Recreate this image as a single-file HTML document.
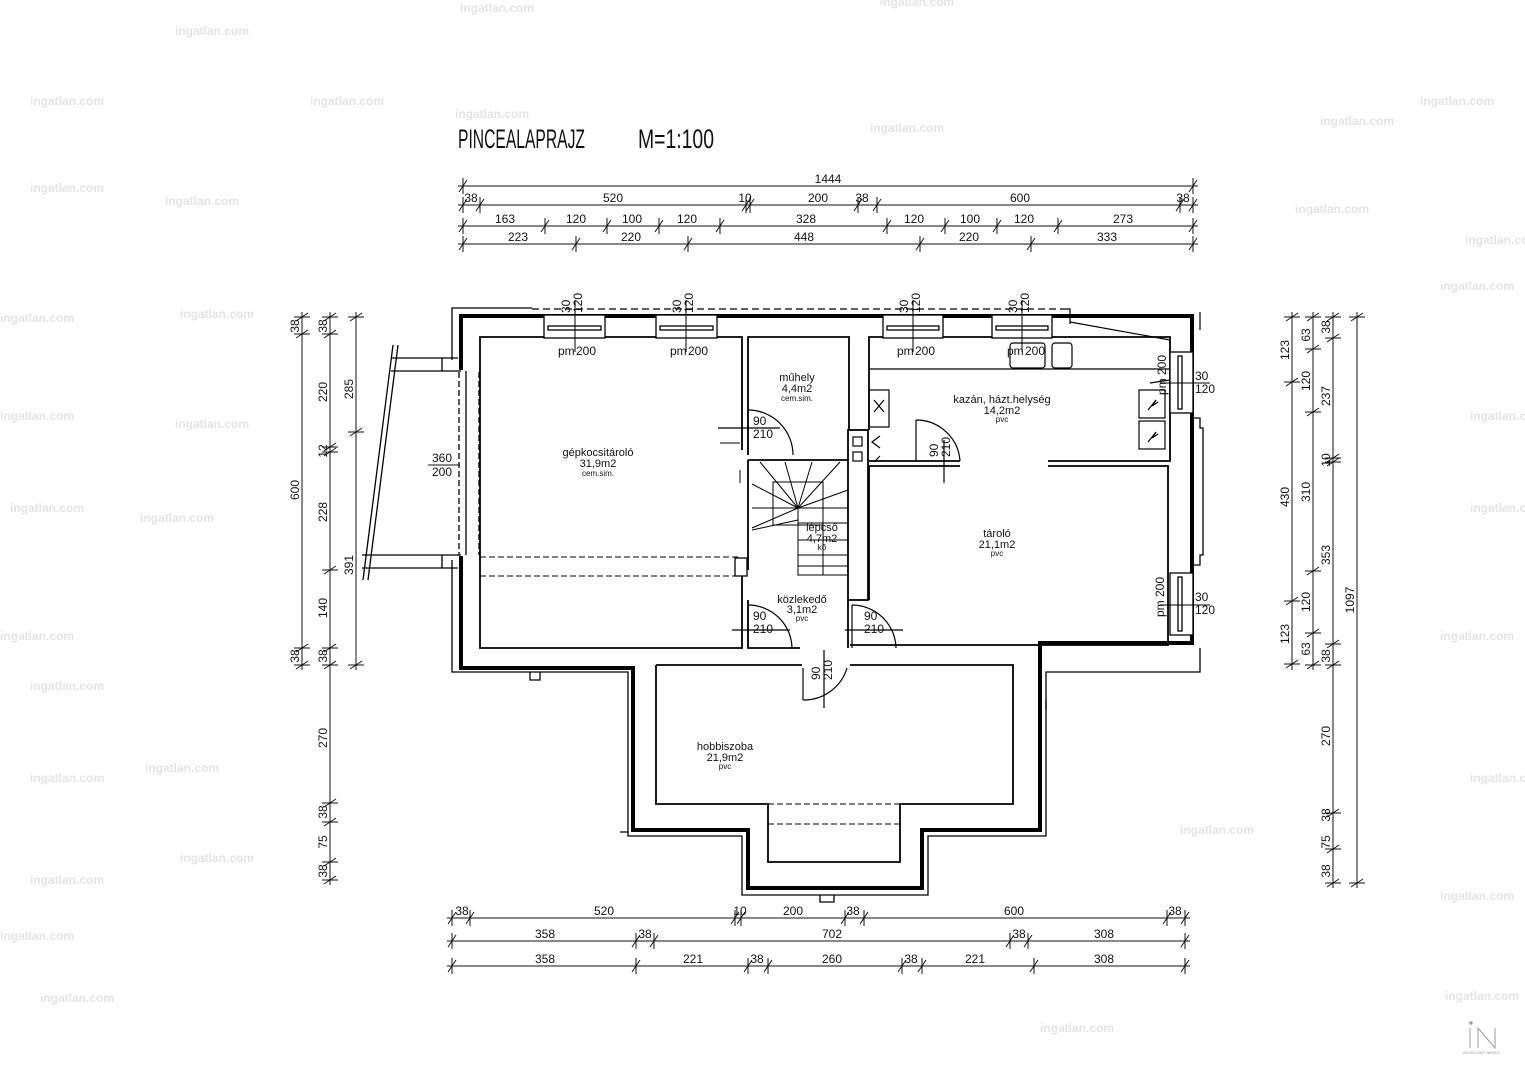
<!DOCTYPE html>
<html><head><meta charset="utf-8"><style>
html,body{margin:0;padding:0;background:#fff}
svg{display:block}
text{font-family:"Liberation Sans Narrow","Liberation Sans",sans-serif;fill:#111}
.d{font-size:12px}
.r{font-size:11px}
.s{font-size:8px}
.wm{font-size:12px;fill:#e4e4e4;font-weight:bold}
</style></head><body>
<svg width="1525" height="1080" viewBox="0 0 1525 1080" xmlns="http://www.w3.org/2000/svg">
<rect width="1525" height="1080" fill="#fff"/>
<g class="wm">
<text x="175" y="35" class="wm">ingatlan.com</text><text x="460" y="12" class="wm">ingatlan.com</text><text x="880" y="6" class="wm">ingatlan.com</text>
<text x="30" y="105" class="wm">ingatlan.com</text><text x="310" y="105" class="wm">ingatlan.com</text><text x="455" y="118" class="wm">ingatlan.com</text><text x="870" y="132" class="wm">ingatlan.com</text><text x="1320" y="125" class="wm">ingatlan.com</text><text x="1420" y="105" class="wm">ingatlan.com</text>
<text x="30" y="192" class="wm">ingatlan.com</text><text x="165" y="205" class="wm">ingatlan.com</text><text x="1295" y="213" class="wm">ingatlan.com</text><text x="1465" y="244" class="wm">ingatlan.com</text>
<text x="0" y="322" class="wm">ingatlan.com</text><text x="180" y="318" class="wm">ingatlan.com</text><text x="1440" y="290" class="wm">ingatlan.com</text>
<text x="0" y="420" class="wm">ingatlan.com</text><text x="175" y="428" class="wm">ingatlan.com</text><text x="1470" y="420" class="wm">ingatlan.com</text>
<text x="10" y="512" class="wm">ingatlan.com</text><text x="140" y="522" class="wm">ingatlan.com</text><text x="1470" y="512" class="wm">ingatlan.com</text>
<text x="0" y="640" class="wm">ingatlan.com</text><text x="30" y="690" class="wm">ingatlan.com</text><text x="1440" y="640" class="wm">ingatlan.com</text>
<text x="30" y="782" class="wm">ingatlan.com</text><text x="145" y="772" class="wm">ingatlan.com</text><text x="1470" y="782" class="wm">ingatlan.com</text>
<text x="30" y="884" class="wm">ingatlan.com</text><text x="180" y="862" class="wm">ingatlan.com</text><text x="1180" y="834" class="wm">ingatlan.com</text><text x="1440" y="900" class="wm">ingatlan.com</text>
<text x="0" y="940" class="wm">ingatlan.com</text><text x="40" y="1002" class="wm">ingatlan.com</text><text x="1040" y="1032" class="wm">ingatlan.com</text><text x="1445" y="1000" class="wm">ingatlan.com</text>
</g>

<text x="458" y="148" font-size="27" textLength="127" lengthAdjust="spacingAndGlyphs">PINCEALAPRAJZ</text>
<text x="638" y="148" font-size="27" textLength="76" lengthAdjust="spacingAndGlyphs">M=1:100</text>

<g stroke="#111" stroke-width="1" fill="none">
<path d="M458 186H1198 M458 205H1198 M458 226H1198 M458 244H1198"/>
<path d="M447 918H1190 M447 941H1190 M447 966H1190"/>
<path d="M302 312V670 M330 312V885 M356 312V670"/>
<path d="M1292 312V670 M1313 312V670 M1333 312V888 M1357 312V888"/>
<path d="M459 192L467 180M463 178V194 M1189 192L1197 180M1193 178V194
M459 211L467 199M463 197V213 M476 211L484 199M480 197V213 M742 211L750 199M746 197V213 M746 211L754 199M750 197V213 M854 211L862 199M858 197V213 M873 211L881 199M877 197V213 M1176 211L1184 199M1180 197V213 M1189 211L1197 199M1193 197V213
M459 232L467 220M463 218V234 M541 232L549 220M545 218V234 M603 232L611 220M607 218V234 M655 232L663 220M659 218V234 M716 232L724 220M720 218V234 M883 232L891 220M887 218V234 M941 232L949 220M945 218V234 M993 232L1001 220M997 218V234 M1054 232L1062 220M1058 218V234 M1189 232L1197 220M1193 218V234
M459 250L467 238M463 236V252 M572 250L580 238M576 236V252 M684 250L692 238M688 236V252 M916 250L924 238M920 236V252 M1027 250L1035 238M1031 236V252 M1189 250L1197 238M1193 236V252"/>
<path d="M448 924L456 912M452 910V926 M466 924L474 912M470 910V926 M731 924L739 912M735 910V926 M737 924L745 912M741 910V926 M841 924L849 912M845 910V926 M860 924L868 912M864 910V926 M1163 924L1171 912M1167 910V926 M1181 924L1189 912M1185 910V926
M448 947L456 935M452 933V949 M632 947L640 935M636 933V949 M650 947L658 935M654 933V949 M1006 947L1014 935M1010 933V949 M1024 947L1032 935M1028 933V949 M1181 947L1189 935M1185 933V949
M448 972L456 960M452 958V974 M632 972L640 960M636 958V974 M744 972L752 960M748 958V974 M764 972L772 960M768 958V974 M898 972L906 960M902 958V974 M918 972L926 960M922 958V974 M1030 972L1038 960M1034 958V974 M1181 972L1189 960M1185 958V974"/>
<path d="M296 321L308 313M294 317H310 M296 338L308 330M294 334H310 M296 652L308 644M294 648H310 M296 669L308 661M294 665H310
M324 321L336 313M322 317H338 M324 338L336 330M322 334H338 M324 451L336 443M322 447H338 M324 456L336 448M322 452H338 M324 574L336 566M322 570H338 M324 652L336 644M322 648H338 M324 669L336 661M322 665H338 M324 807L336 799M322 803H338 M324 826L336 818M322 822H338 M324 866L336 858M322 862H338 M324 884L336 876M322 880H338
M350 321L362 313M348 317H364 M350 436L362 428M348 432H364 M350 669L362 661M348 665H364"/>
<path d="M1286 321L1298 313M1284 317H1300 M1286 386L1298 378M1284 382H1300 M1286 605L1298 597M1284 601H1300 M1286 668L1298 660M1284 664H1300
M1307 321L1319 313M1305 317H1321 M1307 353L1319 345M1305 349H1321 M1307 416L1319 408M1305 412H1321 M1307 575L1319 567M1305 571H1321 M1307 637L1319 629M1305 633H1321 M1307 669L1319 661M1305 665H1321
M1327 321L1339 313M1325 317H1341 M1327 342L1339 334M1325 338H1341 M1327 462L1339 454M1325 458H1341 M1327 466L1339 458M1325 462H1341 M1327 648L1339 640M1325 644H1341 M1327 669L1339 661M1325 665H1341 M1327 817L1339 809M1325 813H1341 M1327 853L1339 845M1325 849H1341 M1327 887L1339 879M1325 883H1341
M1351 321L1363 313M1349 317H1365 M1351 887L1363 879M1349 883H1365"/>
</g>
<g class="d" text-anchor="middle">
<text x="828" y="183">1444</text>
<text x="471" y="202">38</text><text x="613" y="202">520</text><text x="745" y="202">10</text><text x="818" y="202">200</text><text x="862" y="202">38</text><text x="1020" y="202">600</text><text x="1183" y="202">38</text>
<text x="505" y="223">163</text><text x="576" y="223">120</text><text x="632" y="223">100</text><text x="687" y="223">120</text><text x="806" y="223">328</text><text x="914" y="223">120</text><text x="970" y="223">100</text><text x="1024" y="223">120</text><text x="1123" y="223">273</text>
<text x="518" y="241">223</text><text x="631" y="241">220</text><text x="804" y="241">448</text><text x="969" y="241">220</text><text x="1107" y="241">333</text>
<text x="462" y="915">38</text><text x="604" y="915">520</text><text x="740" y="915">10</text><text x="793" y="915">200</text><text x="853" y="915">38</text><text x="1014" y="915">600</text><text x="1175" y="915">38</text>
<text x="545" y="938">358</text><text x="645" y="938">38</text><text x="832" y="938">702</text><text x="1019" y="938">38</text><text x="1104" y="938">308</text>
<text x="545" y="963">358</text><text x="693" y="963">221</text><text x="757" y="963">38</text><text x="832" y="963">260</text><text x="911" y="963">38</text><text x="975" y="963">221</text><text x="1104" y="963">308</text>
</g>
<g class="d" text-anchor="middle">
<text transform="translate(299,326) rotate(-90)">38</text><text transform="translate(299,490) rotate(-90)">600</text><text transform="translate(299,656) rotate(-90)">38</text>
<text transform="translate(327,326) rotate(-90)">38</text><text transform="translate(327,392) rotate(-90)">220</text><text transform="translate(327,451) rotate(-90)">12</text><text transform="translate(327,512) rotate(-90)">228</text><text transform="translate(327,608) rotate(-90)">140</text><text transform="translate(327,656) rotate(-90)">38</text><text transform="translate(327,738) rotate(-90)">270</text><text transform="translate(327,812) rotate(-90)">38</text><text transform="translate(327,842) rotate(-90)">75</text><text transform="translate(327,871) rotate(-90)">38</text>
<text transform="translate(353,389) rotate(-90)">285</text><text transform="translate(353,565) rotate(-90)">391</text>
<text transform="translate(1289,350) rotate(-90)">123</text><text transform="translate(1289,497) rotate(-90)">430</text><text transform="translate(1289,634) rotate(-90)">123</text>
<text transform="translate(1310,335) rotate(-90)">63</text><text transform="translate(1310,381) rotate(-90)">120</text><text transform="translate(1310,492) rotate(-90)">310</text><text transform="translate(1310,602) rotate(-90)">120</text><text transform="translate(1310,649) rotate(-90)">63</text>
<text transform="translate(1330,327) rotate(-90)">38</text><text transform="translate(1330,396) rotate(-90)">237</text><text transform="translate(1330,460) rotate(-90)">10</text><text transform="translate(1330,555) rotate(-90)">353</text><text transform="translate(1330,656) rotate(-90)">38</text><text transform="translate(1330,736) rotate(-90)">270</text><text transform="translate(1330,815) rotate(-90)">38</text><text transform="translate(1330,842) rotate(-90)">75</text><text transform="translate(1330,871) rotate(-90)">38</text>
<text transform="translate(1354,600) rotate(-90)">1097</text>
</g>

<g fill="none" stroke="#000">
<path stroke-width="4" d="M461 370V316H1192V643H1040V830H922V888H748V830H633V668H461V556"/>
<path stroke-width="1.3" d="M452 360V308H532 M452 560V672H628V836H742V895H928V836H1046V672H1200V648"/>
<path stroke-width="1.2" stroke-dasharray="7,4" d="M532 309H1060"/>
<path stroke-width="1.2" d="M1060 309H1070V324 M1200 312V330"/>
<g stroke-width="1.8">
<path d="M742 570V648H480V337H742V450"/>
<path d="M748 455V337H849V430"/>
<path d="M869 430V337H1170V461H1048 M960 461H869"/>
<path d="M869 600V466H960 M1048 466H1168V645H850"/>
<path d="M748 460H848 M748 460V570 M748 600V648H800 M848 600V648"/>
<path d="M656 665V804H768V862H900V804H1013V665H850 M802 665H656"/>
<rect x="848" y="430" width="20" height="170"/>
</g>
<g stroke-width="1.3">
<path d="M391 358H458 M391 371H461 M362 555H461 M362 568H458"/>
<path d="M393 345L363 580 M398 345L368 580"/>
<path d="M466 371V555" />
<path stroke-dasharray="6,3" d="M459 372V555 M479 372V555"/>
<path d="M442 555V568 M442 358V371"/>
</g>
<path stroke-width="1" stroke-dasharray="6,3" d="M480 557H740 M480 576H740"/>
<rect x="735" y="558" width="12" height="18" stroke-width="1.3" fill="#fff"/>
<path stroke-width="1" stroke-dasharray="6,3" d="M768 804H900 M768 824H900"/>
<g stroke-width="1.3" fill="#fff">
<rect x="544" y="315" width="61" height="23"/><rect x="656" y="315" width="61" height="23"/><rect x="883" y="315" width="60" height="23"/><rect x="992" y="315" width="60" height="23"/>
<rect x="548" y="326" width="53" height="4"/><rect x="660" y="326" width="53" height="4"/><rect x="887" y="326" width="52" height="4"/><rect x="996" y="326" width="52" height="4"/>
<rect x="1170" y="352" width="23" height="61"/><rect x="1170" y="573" width="23" height="62"/>
<rect x="1178" y="356" width="4" height="53"/><rect x="1178" y="577" width="4" height="54"/>
</g>
<path stroke-width="1.3" d="M1194 418H1200V428H1203V555H1200V565H1194"/>
<path stroke-width="1.3" d="M530 672V680H540V672 M620 832H628 M1046 700V710 M820 895V902H834V895"/>
<path stroke-width="1" d="M575 300V352 M686 300V352 M913 300V352 M1022 300V352 M1160 383H1210 M1160 605H1210 M740 443H720 M740 470V483"/>
<g stroke-width="1.2">
<path d="M748 410V455 M748 410A45 45 0 0 1 793 455"/>
<path d="M916 420V461 M916 420A44 44 0 0 1 960 461"/>
<path d="M748 605V648 M748 605A44 44 0 0 1 792 648"/>
<path d="M852 605V648 M852 605A44 44 0 0 1 896 648"/>
<path d="M803 668V700 M803 700A45 45 0 0 0 847 668"/>
<path d="M718 428H780 M845 630H903 M944 440V483 M824 650V708 M732 630H790"/>
</g>
<g stroke-width="1">
<rect x="773" y="482" width="50" height="43"/>
<path d="M798 508V575H848 M798 523H848 M798 540H848 M798 555H848 M798 566H848 M823 525V575"/>
<path d="M798 508L760 462 M798 508L785 462 M798 508L812 462 M798 508L840 462 M798 508L848 490 M798 508L848 508 M798 508L752 484 M798 508L752 508 M798 508L752 528 M752 530L798 520"/>
</g>
<g stroke-width="1.2">
<path d="M869 369H1170"/>
<rect x="1010" y="343" width="35" height="25" rx="3"/><rect x="1052" y="343" width="20" height="25" rx="3"/>
<rect x="869" y="390" width="20" height="37"/><path d="M874 400L884 412M884 400L874 412"/>
<rect x="1139" y="390" width="26" height="28"/><rect x="1139" y="421" width="26" height="28"/>
<path d="M1148 410L1156 400L1152 406L1158 402 M1148 442L1156 432L1152 438L1158 434"/>
<rect x="853" y="437" width="9" height="9"/><rect x="853" y="452" width="9" height="9"/>
<path d="M880 436L872 442L880 448 M880 456L874 462"/>
<path d="M1070 322L1170 340 M1150 383L1170 380"/>
</g>
</g>

<g class="r" text-anchor="middle">
<text x="598" y="456">gépkocsitároló</text><text x="598" y="467">31,9m2</text><text x="598" y="476" class="s">cem.sim.</text>
<text x="797" y="381">műhely</text><text x="797" y="392">4,4m2</text><text x="797" y="401" class="s">cem.sim.</text>
<text x="1002" y="403">kazán, házt.helység</text><text x="1002" y="414">14,2m2</text><text x="1002" y="422" class="s">pvc</text>
<text x="997" y="537">tároló</text><text x="997" y="548">21,1m2</text><text x="997" y="556" class="s">pvc</text>
<text x="822" y="531">lépcső</text><text x="822" y="542">4,7m2</text><text x="822" y="550" class="s">kő</text>
<text x="802" y="603">közlekedő</text><text x="802" y="613">3,1m2</text><text x="802" y="621" class="s">pvc</text>
<text x="725" y="750">hobbiszoba</text><text x="725" y="761">21,9m2</text><text x="725" y="769" class="s">pvc</text>
</g>
<g class="d">
<text x="558" y="355">pm</text><text x="576" y="355">200</text>
<text x="670" y="355">pm</text><text x="688" y="355">200</text>
<text x="897" y="355">pm</text><text x="915" y="355">200</text>
<text x="1007" y="355">pm</text><text x="1025" y="355">200</text>
<text x="1195" y="380">30</text><text x="1195" y="393">120</text>
<text x="1195" y="601">30</text><text x="1195" y="614">120</text>
<text transform="translate(1166,395) rotate(-90)">pm 200</text>
<text transform="translate(1164,617) rotate(-90)">pm 200</text>
<text x="753" y="425">90</text><text x="753" y="438">210</text>
<text x="753" y="620">90</text><text x="753" y="633">210</text>
<text x="864" y="620">90</text><text x="864" y="633">210</text>
<text transform="translate(938,457) rotate(-90)">90</text><text transform="translate(950,457) rotate(-90)">210</text>
<text transform="translate(820,680) rotate(-90)">90</text><text transform="translate(832,680) rotate(-90)">210</text>
<text x="432" y="462">360</text><text x="432" y="476">200</text>
<text transform="translate(570,313) rotate(-90)">30</text><text transform="translate(582,313) rotate(-90)">120</text>
<text transform="translate(681,313) rotate(-90)">30</text><text transform="translate(693,313) rotate(-90)">120</text>
<text transform="translate(908,313) rotate(-90)">30</text><text transform="translate(920,313) rotate(-90)">120</text>
<text transform="translate(1017,313) rotate(-90)">30</text><text transform="translate(1029,313) rotate(-90)">120</text>
</g>
<path d="M428 465H460" stroke="#111" stroke-width="1"/>
<g fill="none" stroke="#999" stroke-width="1">
<path d="M1470 1028V1048 M1478 1048V1028L1495 1048V1028"/>
<circle cx="1471" cy="1023" r="1.2" fill="#999"/>
</g>
<text x="1463" y="1054" font-size="4" style="fill:#999">INGATLANT NEKED</text>
</svg>
</body></html>
